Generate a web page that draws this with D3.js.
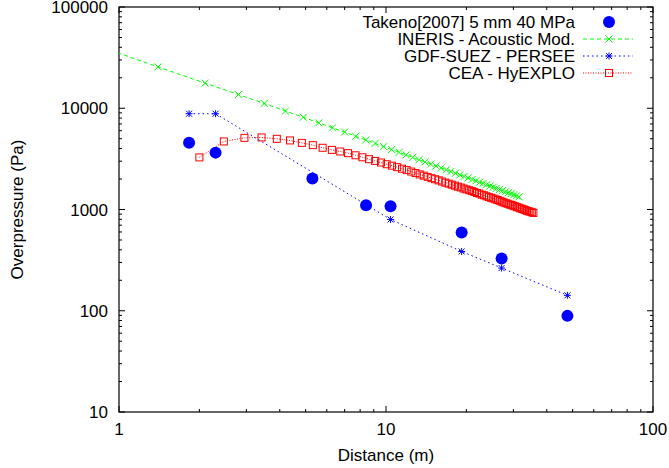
<!DOCTYPE html>
<html>
<head>
<meta charset="utf-8">
<script src="https://cdn.jsdelivr.net/npm/d3@7"></script>
<style>
  body { margin: 0; background: #fff; }
  svg { display: block; font-family: "Liberation Sans", Arial, sans-serif; }
</style>
</head>
<body>
<svg id="chart" width="669" height="468"></svg>
<script>
// Takeno[2007] 5 mm 40 MPa (experiment)
const takenoX = [1.83, 2.30, 5.30, 8.42, 10.4, 19.2, 27.1, 47.8];
const takenoY = [4570, 3645, 2020, 1100, 1078, 593, 329, 89];

// GDF-SUEZ - PERSEE
const persX = [1.83, 2.30, 10.4, 19.2, 27.1, 47.8];
const persY = [8830, 8830, 797, 385, 264, 142];

// INERIS - Acoustic Mod.
const inerisX = [0.7, 1.4, 2.1, 2.8, 3.5, 4.2, 4.9, 5.6, 6.3, 7.0, 7.7, 8.4, 9.1, 9.8,
  10.5, 11.2, 11.9, 12.6, 13.3, 14.0, 14.7, 15.4, 16.1, 16.8, 17.5, 18.2, 18.9, 19.6,
  20.3, 21.0, 21.7, 22.4, 23.1, 23.8, 24.5, 25.2, 25.9, 26.6, 27.3, 28.0, 28.7, 29.4,
  30.1, 30.8, 31.5];
const inerisY = [48500, 25600, 17700, 13650, 11150, 9380, 8150, 7170, 6410, 5820, 5290,
  4860, 4490, 4180, 3910, 3670, 3460, 3270, 3100, 2950, 2810, 2690, 2570, 2470, 2370,
  2280, 2200, 2120, 2050, 1980, 1920, 1860, 1810, 1755, 1705, 1660, 1615, 1575, 1535,
  1495, 1460, 1430, 1395, 1365, 1335];

// CEA - HyEXPLO
const ceaX = [2.00, 2.47, 2.95, 3.42, 3.90, 4.37, 4.84, 5.32, 5.79, 6.27, 6.74, 7.21,
  7.69, 8.16, 8.64, 9.11, 9.58, 10.06, 10.53, 11.01, 11.48, 11.95, 12.43, 12.90, 13.38,
  13.85, 14.32, 14.80, 15.27, 15.75, 16.22, 16.69, 17.17, 17.64, 18.12, 18.59, 19.06,
  19.54, 20.01, 20.49, 20.96, 21.43, 21.91, 22.38, 22.86, 23.33, 23.80, 24.28, 24.75,
  25.23, 25.70, 26.17, 26.65, 27.12, 27.60, 28.07, 28.54, 29.02, 29.49, 29.97, 30.44,
  30.91, 31.39, 31.86, 32.34, 32.81, 33.28, 33.76, 34.23, 34.71, 35.18, 35.65];
const ceaY = [3270, 4700, 5100, 5150, 4990, 4810, 4550, 4320, 4070, 3880, 3740, 3600,
  3430, 3280, 3140, 3020, 2910, 2800, 2710, 2620, 2530, 2450, 2370, 2290, 2220, 2160,
  2100, 2040, 1990, 1940, 1890, 1840, 1800, 1760, 1720, 1680, 1650, 1610, 1580, 1550,
  1520, 1490, 1455, 1435, 1400, 1380, 1350, 1325, 1305, 1285, 1260, 1240, 1220, 1195,
  1175, 1155, 1140, 1120, 1110, 1090, 1075, 1055, 1045, 1025, 1015, 1000, 985, 970,
  960, 950, 940, 925];

const legendLabels = ["Takeno[2007] 5 mm 40 MPa", "INERIS - Acoustic Mod.",
  "GDF-SUEZ - PERSEE", "CEA - HyEXPLO"];
const xTickValues = [1, 10, 100];
const yTickValues = [10, 100, 1000, 10000, 100000];

const svg = d3.select("#chart");
const pLeft = 119, pRight = 653, pTop = 7, pBottom = 412;
const fontSize = 17;

const x = d3.scaleLog().domain([1, 100]).range([pLeft, pRight]);
const y = d3.scaleLog().domain([10, 100000]).range([pBottom, pTop]);

const zip = (xs, ys) => xs.map((v, i) => [v, ys[i]]);

svg.append("clipPath").attr("id", "plot-clip")
  .append("rect")
  .attr("x", pLeft).attr("y", pTop)
  .attr("width", pRight - pLeft).attr("height", pBottom - pTop);

// ticks, gnuplot style: inside, mirrored on all four sides
const xMinor = x.ticks().filter(d => !xTickValues.includes(d));
const yMinor = y.ticks().filter(d => !yTickValues.includes(d));

const axes = svg.append("g").attr("stroke", "#000").attr("stroke-width", 1);
const tick = (x1, y1, x2, y2) => axes.append("line")
  .attr("x1", x1).attr("y1", y1).attr("x2", x2).attr("y2", y2);

xTickValues.forEach(d => { tick(x(d), pBottom, x(d), pBottom - 6); tick(x(d), pTop, x(d), pTop + 6); });
xMinor.forEach(d => { tick(x(d), pBottom, x(d), pBottom - 3); tick(x(d), pTop, x(d), pTop + 3); });
yTickValues.forEach(d => { tick(pLeft, y(d), pLeft + 6, y(d)); tick(pRight, y(d), pRight - 6, y(d)); });
yMinor.forEach(d => { tick(pLeft, y(d), pLeft + 3, y(d)); tick(pRight, y(d), pRight - 3, y(d)); });

svg.append("rect")
  .attr("x", pLeft).attr("y", pTop)
  .attr("width", pRight - pLeft).attr("height", pBottom - pTop)
  .attr("fill", "none").attr("stroke", "#000").attr("stroke-width", 1.2);

// tick labels
svg.append("g").selectAll("text").data(xTickValues).join("text")
  .attr("x", d => x(d)).attr("y", pBottom + 23)
  .attr("text-anchor", "middle").attr("font-size", fontSize)
  .text(d => d);

svg.append("g").selectAll("text").data(yTickValues).join("text")
  .attr("x", pLeft - 11).attr("y", d => y(d) + 6)
  .attr("text-anchor", "end").attr("font-size", fontSize)
  .text(d => d);

svg.append("text")
  .attr("x", (pLeft + pRight) / 2).attr("y", 461)
  .attr("text-anchor", "middle").attr("font-size", fontSize)
  .text("Distance (m)");

svg.append("text")
  .attr("transform", `translate(23,${(pTop + pBottom) / 2}) rotate(-90)`)
  .attr("text-anchor", "middle").attr("font-size", fontSize)
  .text("Overpressure (Pa)");

// markers
const drawCross = (g, cx, cy, color) => {
  g.append("path").attr("d", `M${cx-3.5},${cy-3.5}L${cx+3.5},${cy+3.5}M${cx-3.5},${cy+3.5}L${cx+3.5},${cy-3.5}`)
    .attr("stroke", color).attr("stroke-width", 1).attr("fill", "none");
};
const drawStar = (g, cx, cy, color) => {
  g.append("path").attr("d", `M${cx-3.5},${cy}L${cx+3.5},${cy}M${cx},${cy-3.5}L${cx},${cy+3.5}` +
      `M${cx-3},${cy-3}L${cx+3},${cy+3}M${cx-3},${cy+3}L${cx+3},${cy-3}`)
    .attr("stroke", color).attr("stroke-width", 1).attr("fill", "none");
};
const drawSquare = (g, cx, cy, color) => {
  g.append("rect").attr("x", cx - 3.5).attr("y", cy - 3.5).attr("width", 7).attr("height", 7)
    .attr("stroke", color).attr("stroke-width", 1).attr("fill", "none");
};

const line = d3.line().x(d => x(d[0])).y(d => y(d[1]));
const plot = svg.append("g").attr("clip-path", "url(#plot-clip)");

const series = [
  { data: zip(inerisX, inerisY), color: "#00ff00", dash: "4,3", mark: drawCross },
  { data: zip(ceaX, ceaY), color: "#ff0000", dash: "1,1.5", mark: drawSquare },
  { data: zip(persX, persY), color: "#0000ff", dash: "1.5,3", mark: drawStar }
];

series.forEach(s => {
  plot.append("path").datum(s.data)
    .attr("d", line)
    .attr("fill", "none").attr("stroke", s.color)
    .attr("stroke-width", 1).attr("stroke-dasharray", s.dash);
  const mg = plot.append("g");
  s.data.forEach(d => s.mark(mg, x(d[0]), y(d[1]), s.color));
});

plot.append("g").selectAll("circle").data(zip(takenoX, takenoY)).join("circle")
  .attr("cx", d => x(d[0])).attr("cy", d => y(d[1]))
  .attr("r", 6).attr("fill", "#0000ff");

// legend
const legend = svg.append("g");
const legendRows = [22, 39, 56, 73];
const legendStyle = [null, series[0], series[2], series[1]];
legendLabels.forEach((label, i) => {
  const ly = legendRows[i];
  legend.append("text")
    .attr("x", 575).attr("y", ly + 6)
    .attr("text-anchor", "end").attr("font-size", fontSize)
    .text(label);
  const s = legendStyle[i];
  if (s === null) {
    legend.append("circle").attr("cx", 609).attr("cy", ly).attr("r", 6).attr("fill", "#0000ff");
  } else {
    legend.append("line")
      .attr("x1", 583).attr("x2", 633).attr("y1", ly).attr("y2", ly)
      .attr("stroke", s.color).attr("stroke-width", 1).attr("stroke-dasharray", s.dash);
    s.mark(legend, 609, ly, s.color);
  }
});
</script>
</body>
</html>
